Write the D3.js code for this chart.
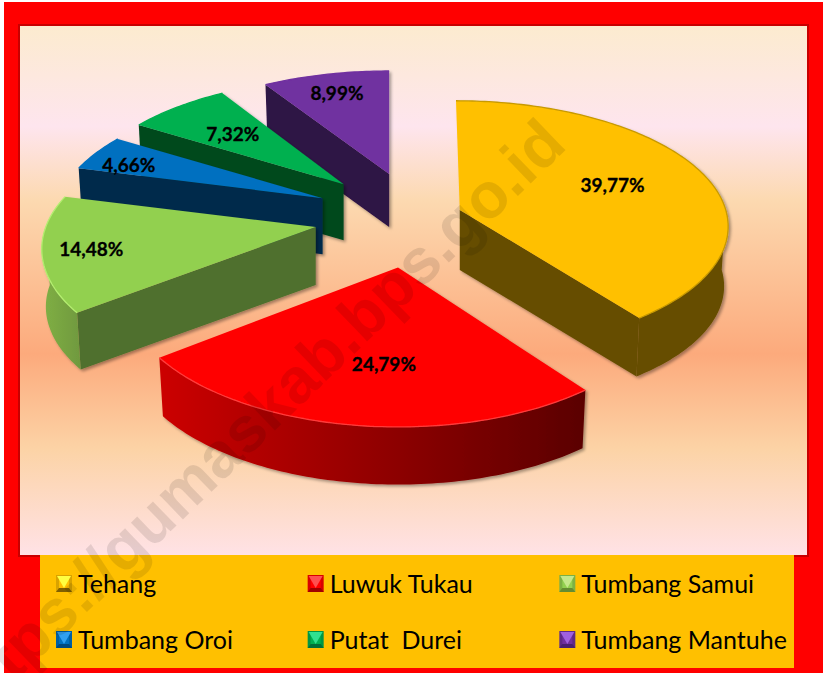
<!DOCTYPE html>
<html><head><meta charset="utf-8">
<script src="https://cdn.jsdelivr.net/npm/d3@7"></script>
<style>html,body{margin:0;padding:0;background:#fff;overflow:hidden}svg{display:block}</style>
</head><body><svg id="c" width="823" height="673"></svg>
<script>
const categories=["Tehang","Luwuk Tukau","Tumbang Samui","Tumbang Oroi","Putat  Durei","Tumbang Mantuhe"];
const values=[39.77,24.79,14.48,4.66,7.32,8.99];
const labels=["39,77%","24,79%","14,48%","4,66%","7,32%","8,99%"];
const topColors=["#ffc000","#ff0000","#92d050","#0070c0","#00b050","#7030a0"];
const wallFrom=["#664d00","#cc0000","#80b045","#002a4c","#03481f","#2d1245"];
const wallTo=["#664d00","#5a0000","#70993e","#002a4c","#03481f","#2d1245"];
const faceColors=["#664d00","#5a0000","#4f6f2d","#002a4c","#03481f","#2d1245"];
const edgeColors=["#c89a00","#ff3a3a","#b4ee70","#0070c0","#00b050","#7030a0"];
const swatchLight=["#ffff40","#ff5050","#c4e88a","#30a0f0","#30e090","#a060e0"];
const swatchDark=["#806000","#a00000","#648c32","#004a80","#007038","#4a2070"];
// layout parameters
const explodeX=[63,15,86,84,79,39], explodeY=[32,48,35,56,51,48];
const perspective=[0.12,0.17,0.17,0.2,0.2,0.2];
const radiusX=[0.985,1,1,0.98,0.98,1], radiusY=[0.97,1.05,1,1,1,0.98];
const skew=[0.03,0,0,0,0,0];
const depth=[60,60,58,56,56,53];
const labelRadius=[0.61,0.68,0.81,0.82,0.62,0.8];
const labelDX=[3,14,-4,-6,-3,0], labelDY=[-2,-4,1,5,0,2];
const drawOrder=[5,4,3,2,0,1];
const cx=400,cy=220,rx=270,ry=126,bottomScale=0.985;

const svg=d3.select("#c");
const defs=svg.append("defs");
const bg=defs.append("linearGradient").attr("id","bg").attr("x1",0).attr("x2",0).attr("y1",0).attr("y2",1);
[[0,"#fcebcf"],[0.19,"#fee5ee"],[0.33,"#fcd9b0"],[0.62,"#fcaa7c"],[0.8,"#fcd3a6"],[1,"#ffe2e6"]]
 .forEach(s=>bg.append("stop").attr("offset",s[0]).attr("stop-color",s[1]));
const shadow=defs.append("filter").attr("id","sh").attr("x","-10%").attr("y","-10%").attr("width","125%").attr("height","125%");
shadow.append("feDropShadow").attr("dx",2).attr("dy",2).attr("stdDeviation",1.8).attr("flood-color","#000").attr("flood-opacity",0.35);

svg.append("rect").attr("x",4).attr("y",2).attr("width",819).attr("height",671).attr("fill","#ff0000");
svg.append("rect").attr("x",19).attr("y",25).attr("width",789).attr("height",531).attr("fill","none").attr("stroke","#c80000").attr("stroke-width",2);
svg.append("rect").attr("x",20).attr("y",26).attr("width",787).attr("height",529).attr("fill","url(#bg)");
svg.append("rect").attr("x",40).attr("y",555).attr("width",754).attr("height",113).attr("fill","#ffc000");

const arcs=d3.pie().sort(null)(values);
const D=Math.PI/180;
function place(i,theta,r,z){
  const X=Math.sin(theta)*r,Y=-Math.cos(theta)*r,s=1/(1-perspective[i]*Y);
  const mid=(arcs[i].startAngle+arcs[i].endAngle)/2;
  const ax=cx+explodeX[i]*Math.sin(mid),ay=cy-explodeY[i]*Math.cos(mid);
  const k=z?bottomScale:1;
  return [ax+(rx*radiusX[i]*X*s+skew[i]*ry*Y)*k,ay+ry*radiusY[i]*Y*s*k+(z?depth[i]:0)];
}
function sweep(a,b){const n=Math.max(2,Math.ceil((b-a)/D));return d3.range(n+1).map(j=>a+(b-a)*j/n);}
const line=d3.line();
const g=svg.append("g");
drawOrder.forEach(i=>{
  const a=arcs[i],s=a.startAngle,e=a.endAngle,sl=g.append("g").attr("filter","url(#sh)");
  const gr=defs.append("linearGradient").attr("id","w"+i);
  gr.append("stop").attr("offset",0).attr("stop-color",wallFrom[i]);
  gr.append("stop").attr("offset",1).attr("stop-color",wallTo[i]);
  const lo=Math.max(s,Math.PI/2),hi=Math.min(e,Math.PI*1.5);
  if(e<=Math.PI){ sl.append("path").attr("fill",faceColors[i]).attr("d",line([place(i,0,0,0),place(i,e,1,0),place(i,e,1,1),place(i,0,0,1)])+"Z"); }
  if(s>=Math.PI){ sl.append("path").attr("fill",faceColors[i]).attr("d",line([place(i,0,0,0),place(i,s,1,0),place(i,s,1,1),place(i,0,0,1)])+"Z"); }
  if(hi>lo){
    const t=sweep(lo,hi);
    sl.append("path").attr("fill",`url(#w${i})`).attr("d",line(t.map(v=>place(i,v,1,0)).concat(t.slice().reverse().map(v=>place(i,v,1,1))))+"Z");
  }
  const pts=[place(i,0,0,0)].concat(sweep(s,e).map(v=>place(i,v,1,0)));
  sl.append("path").attr("fill",topColors[i]).attr("d",line(pts)+"Z");
  sl.append("path").attr("fill","none").attr("stroke",edgeColors[i]).attr("stroke-width",1.3).attr("d",line(sweep(s,e).map(v=>place(i,v,1,0))));
});
// data labels
arcs.forEach((a,i)=>{
  const p=place(i,(a.startAngle+a.endAngle)/2,labelRadius[i],0);
  svg.append("text").attr("x",p[0]+labelDX[i]).attr("y",p[1]+labelDY[i]).attr("dy","0.35em").attr("text-anchor","middle")
    .attr("font-family","Lato").attr("font-weight",700).attr("font-size",19).attr("fill","#000")
    .attr("stroke","#000").attr("stroke-width",0.3).text(labels[i]);
});
// legend
const colX=d3.scaleBand().domain([0,1,2]).range([56,811]);
const rowY=d3.scaleBand().domain([0,1]).range([555,667]);
categories.forEach((c,i)=>{
  const x=colX(i%3),y=rowY(Math.floor(i/3))+20,w=16,h=17,l=svg.append("g");
  l.append("rect").attr("x",x).attr("y",y).attr("width",w).attr("height",h).attr("fill",d3.interpolateRgb(topColors[i],"#000")(0.15));
  l.append("path").attr("fill",topColors[i]).attr("d",line([[x+3,y+3],[x+w-3,y+3],[x+w-3,y+h-3],[x+3,y+h-3]])+"Z");
  l.append("path").attr("fill",swatchLight[i]).attr("d",line([[x+1,y+1],[x+w-1,y+1],[x+w/2,y+h-4]])+"Z");
  l.append("path").attr("fill",swatchDark[i]).attr("d",line([[x,y+h],[x+w,y+h],[x+w-3,y+h-4],[x+3,y+h-4]])+"Z");
  l.append("text").attr("x",x+22).attr("y",y+18).attr("font-family","Lato").attr("font-size",25).attr("fill","#000").attr("xml:space","preserve").text(c);
});
// watermark
svg.append("text").attr("transform","translate(-30,725) rotate(-44)").attr("font-family","Liberation Sans").attr("font-weight",700).attr("font-size",64).attr("fill","#000").attr("fill-opacity",0.1).text("https://gumaskab.bps.go.id");
</script></body></html>
